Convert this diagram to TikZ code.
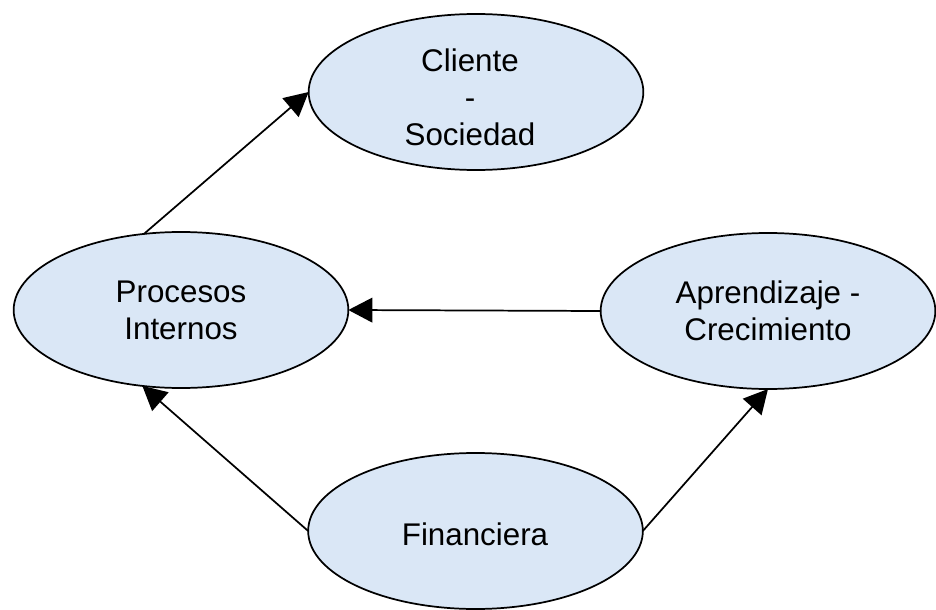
\documentclass[tikz,border=0pt]{standalone}
\usepackage{fontspec}
\setmainfont{Liberation Sans}
\usetikzlibrary{shapes.geometric,arrows.meta}
\definecolor{bubblefill}{RGB}{218,231,246}
\begin{document}
\begin{tikzpicture}[x=0.75pt,y=-0.75pt,
  bubble/.style={ellipse,draw=black,line width=1.3pt,fill=bubblefill,
    minimum width=251pt,minimum height=117pt,inner sep=0pt,outer sep=0pt,
    align=center,font=\fontsize{23.5}{27.75}\selectfont},
  link/.style={line width=1.3pt,-{Triangle[length=18pt,width=18.5pt]}}]
\useasboundingbox (0,0) rectangle (936,610);
% the four perspectives
\node[bubble] (cli) at (476,92)  {};
\node[bubble] (pro) at (181,310) {};
\node[bubble] (apr) at (768,311) {};
\node[bubble] (fin) at (475.5,531) {};
% their labels
\node[font=\fontsize{23.5}{27.75}\selectfont,align=center] (clit) at (470,97) {Cliente\\-\\Sociedad};
\node[font=\fontsize{23.5}{27.75}\selectfont,align=center] (prot) at (pro) {Procesos\\Internos};
\node[font=\fontsize{23.5}{27.75}\selectfont,align=center] (aprt) at (apr) {Aprendizaje -\\Crecimiento};
\node[font=\fontsize{23.5}{27.75}\selectfont,align=center] (fint) at (475,534) {Financiera};
% cause-effect links
\draw[link] (pro.116.6) -- (cli.west);
\draw[link] (apr.west) -- (pro.east);
\draw[link] (fin.west) -- (pro.243.4);
\draw[link] (fin.east) -- (apr.south);
\end{tikzpicture}
\end{document}
